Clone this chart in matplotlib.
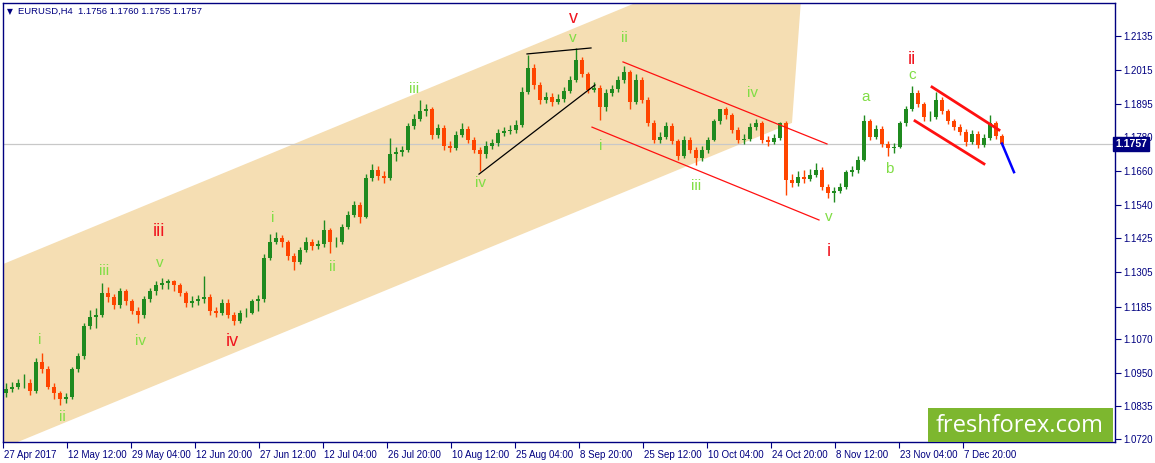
import matplotlib
matplotlib.use("Agg")
import matplotlib.pyplot as plt
import matplotlib.transforms as mtrans
from matplotlib.patches import Polygon, Rectangle

# ---------------- data ----------------
symbol = "EURUSD,H4"
header_quote = "1.1756 1.1760 1.1755 1.1757"
last_price = 1.1757
first_open = 1.0880
bars_per_candle = 6  # each drawn candle aggregates 6 H4 bars (one trading day)

closes = [1.0897, 1.0904, 1.0915, 1.0918, 1.0887, 1.0992, 1.0964, 1.0904, 1.0880, 1.0859,
          1.0866, 1.0964, 1.1010, 1.1118, 1.1147, 1.1157, 1.1234, 1.1217, 1.1189, 1.1238,
          1.1203, 1.1171, 1.1154, 1.1210, 1.1238, 1.1262, 1.1266, 1.1273, 1.1259, 1.1231,
          1.1199, 1.1203, 1.1210, 1.1217, 1.1168, 1.1164, 1.1199, 1.1154, 1.1136, 1.1161,
          1.1164, 1.1203, 1.1210, 1.1357, 1.1413, 1.1427, 1.1410, 1.1361, 1.1343, 1.1385,
          1.1413, 1.1399, 1.1403, 1.1455, 1.1410, 1.1413, 1.1466, 1.1508, 1.1543, 1.1501,
          1.1638, 1.1666, 1.1645, 1.1638, 1.1719, 1.1729, 1.1736, 1.1820, 1.1845, 1.1870,
          1.1877, 1.1789, 1.1813, 1.1750, 1.1743, 1.1789, 1.1810, 1.1771, 1.1736, 1.1719,
          1.1750, 1.1761, 1.1796, 1.1803, 1.1806, 1.1824, 1.1940, 1.2024, 1.1964, 1.1912,
          1.1922, 1.1905, 1.1915, 1.1943, 1.1982, 1.2051, 1.2003, 1.1947, 1.1954, 1.1884,
          1.1936, 1.1950, 1.1982, 1.2007, 1.1905, 1.1982, 1.1912, 1.1831, 1.1771, 1.1782,
          1.1820, 1.1768, 1.1712, 1.1771, 1.1736, 1.1705, 1.1736, 1.1771, 1.1835, 1.1877,
          1.1859, 1.1806, 1.1771, 1.1775, 1.1817, 1.1828, 1.1771, 1.1764, 1.1778, 1.1828,
          1.1631, 1.1620, 1.1641, 1.1634, 1.1648, 1.1666, 1.1606, 1.1582, 1.1592, 1.1606,
          1.1656, 1.1663, 1.1701, 1.1835, 1.1782, 1.1810, 1.1757, 1.1740, 1.1747, 1.1828,
          1.1877, 1.1936, 1.1898, 1.1849, 1.1852, 1.1912, 1.1870, 1.1838, 1.1817, 1.1799,
          1.1764, 1.1792, 1.1754, 1.1778, 1.1828, 1.1785, 1.1757]

highs = [1.0915, 1.0921, 1.0932, 1.0948, 1.0930, 1.1003, 1.1021, 1.0975, 1.0915, 1.0890,
         1.0880, 1.0972, 1.1022, 1.1128, 1.1172, 1.1180, 1.1268, 1.1255, 1.1228, 1.1250,
         1.1245, 1.1212, 1.1185, 1.1222, 1.1250, 1.1275, 1.1285, 1.1282, 1.1280, 1.1268,
         1.1240, 1.1222, 1.1225, 1.1292, 1.1230, 1.1185, 1.1212, 1.1210, 1.1165, 1.1172,
         1.1180, 1.1212, 1.1225, 1.1368, 1.1440, 1.1447, 1.1438, 1.1418, 1.1372, 1.1395,
         1.1430, 1.1422, 1.1418, 1.1489, 1.1462, 1.1430, 1.1475, 1.1520, 1.1555, 1.1552,
         1.1650, 1.1685, 1.1678, 1.1660, 1.1777, 1.1745, 1.1750, 1.1830, 1.1862, 1.1910,
         1.1895, 1.1885, 1.1825, 1.1822, 1.1765, 1.1800, 1.1831, 1.1818, 1.1780, 1.1745,
         1.1765, 1.1775, 1.1808, 1.1815, 1.1822, 1.1840, 1.1955, 1.2068, 1.2035, 1.1972,
         1.1940, 1.1935, 1.1930, 1.1955, 1.1995, 1.2092, 1.2060, 1.2010, 1.1972, 1.1962,
         1.1948, 1.1962, 1.1995, 1.2030, 1.2015, 1.2000, 1.1990, 1.1920, 1.1840, 1.1798,
         1.1833, 1.1828, 1.1775, 1.1785, 1.1780, 1.1745, 1.1750, 1.1782, 1.1845, 1.1880,
         1.1885, 1.1865, 1.1815, 1.1790, 1.1830, 1.1845, 1.1835, 1.1785, 1.1792, 1.1832,
         1.1835, 1.1650, 1.1660, 1.1665, 1.1668, 1.1689, 1.1675, 1.1615, 1.1605, 1.1618,
         1.1665, 1.1678, 1.1712, 1.1858, 1.1842, 1.1822, 1.1818, 1.1765, 1.1760, 1.1838,
         1.1888, 1.1960, 1.1945, 1.1905, 1.1870, 1.1938, 1.1920, 1.1878, 1.1845, 1.1825,
         1.1808, 1.1805, 1.1800, 1.1790, 1.1858, 1.1835, 1.1790]

lows = [1.0868, 1.0885, 1.0895, 1.0900, 1.0875, 1.0880, 1.0950, 1.0895, 1.0862, 1.0840,
        1.0845, 1.0860, 1.0955, 1.1002, 1.1105, 1.1110, 1.1150, 1.1200, 1.1175, 1.1180,
        1.1190, 1.1160, 1.1126, 1.1145, 1.1200, 1.1225, 1.1245, 1.1248, 1.1240, 1.1222,
        1.1185, 1.1185, 1.1192, 1.1198, 1.1155, 1.1150, 1.1155, 1.1145, 1.1120, 1.1128,
        1.1150, 1.1158, 1.1170, 1.1202, 1.1350, 1.1405, 1.1395, 1.1350, 1.1315, 1.1335,
        1.1378, 1.1385, 1.1388, 1.1395, 1.1373, 1.1395, 1.1405, 1.1458, 1.1500, 1.1478,
        1.1495, 1.1625, 1.1630, 1.1620, 1.1630, 1.1695, 1.1715, 1.1728, 1.1810, 1.1838,
        1.1855, 1.1775, 1.1778, 1.1735, 1.1728, 1.1735, 1.1780, 1.1760, 1.1725, 1.1660,
        1.1705, 1.1738, 1.1750, 1.1785, 1.1790, 1.1795, 1.1815, 1.1930, 1.1950, 1.1895,
        1.1900, 1.1890, 1.1895, 1.1905, 1.1935, 1.1975, 1.1990, 1.1935, 1.1938, 1.1840,
        1.1870, 1.1925, 1.1940, 1.1970, 1.1880, 1.1895, 1.1900, 1.1820, 1.1760, 1.1760,
        1.1775, 1.1755, 1.1700, 1.1705, 1.1725, 1.1682, 1.1695, 1.1725, 1.1765, 1.1825,
        1.1845, 1.1795, 1.1760, 1.1755, 1.1765, 1.1805, 1.1760, 1.1750, 1.1755, 1.1770,
        1.1577, 1.1605, 1.1610, 1.1620, 1.1625, 1.1640, 1.1595, 1.1565, 1.1553, 1.1585,
        1.1598, 1.1645, 1.1655, 1.1695, 1.1770, 1.1775, 1.1745, 1.1712, 1.1725, 1.1740,
        1.1820, 1.1870, 1.1885, 1.1835, 1.1838, 1.1845, 1.1860, 1.1825, 1.1805, 1.1788,
        1.1750, 1.1755, 1.1740, 1.1745, 1.1770, 1.1772, 1.1748]

y_ticks = [1.2135, 1.2015, 1.1895, 1.1780, 1.1660, 1.1540, 1.1425, 1.1305,
           1.1185, 1.1070, 1.0950, 1.0835, 1.0720]
x_tick_labels = ["27 Apr 2017", "12 May 12:00", "29 May 04:00", "12 Jun 20:00",
                 "27 Jun 12:00", "12 Jul 04:00", "26 Jul 20:00", "10 Aug 12:00",
                 "25 Aug 04:00", "8 Sep 20:00", "25 Sep 12:00", "10 Oct 04:00",
                 "24 Oct 20:00", "8 Nov 12:00", "23 Nov 04:00", "7 Dec 20:00"]
x_tick_bars = [0, 64, 128, 192, 256, 320, 384, 448, 512, 576, 640, 704, 768, 832, 896, 960]

# Elliott wave labels: (text, bar, price, kind)
wave_text = ["i", "ii", "iii", "v", "iv", "i", "ii", "iii", "iv", "v", "ii", "i", "iii",
             "iv", "v", "a", "b", "c",
             "iii", "iv", "v", "i", "ii"]
wave_bar = [37, 59, 101, 157, 137, 270, 329, 411, 477, 570, 621, 598, 693,
            749, 826, 863, 886, 909,
            156, 229, 570, 826, 909]
wave_price = [1.1068, 1.0797, 1.1311, 1.1338, 1.1064, 1.1496, 1.1324, 1.1949, 1.1619, 1.2128,
              1.2128, 1.1749, 1.1608, 1.1935, 1.1499, 1.1921, 1.1668, 1.1998,
              1.1447, 1.1064, 1.2198, 1.1377, 1.2054]
wave_kind = ["g"] * 18 + ["r"] * 5

# ---------------- figure ----------------
W, H = 1155, 463
fig = plt.figure(figsize=(W / 100, H / 100), dpi=100)
fig.patch.set_facecolor("white")
ax = fig.add_axes([3 / W, 21 / H, 1112 / W, 439 / H])
ax.set_facecolor("white")
ymin, ymax = 1.07094, 1.22509
ax.set_xlim(0, 1112)
ax.set_ylim(ymin, ymax)

navy = "#000080"
up_col = "#1F8A1F"
dn_col = "#FF4500"
wheat = "#F5DEB3"
green_lbl = "#80DD45"
red_lbl = "#F0141E"

# rising channel (wheat fill)
chan = Polygon([(0, 1.0688), (0, 1.1334), (640, 1.2262), (798, 1.2262), (789, 1.1830)],
               closed=True, facecolor=wheat, edgecolor="none", zorder=1)
ax.add_patch(chan)

# last price horizontal line
ax.axhline(last_price, color="#C8C8C8", lw=0.9, zorder=2)

# candles
opens = [first_open] + closes[:-1]
for k, (o, h, l, c) in enumerate(zip(opens, highs, lows, closes)):
    xc = bars_per_candle * k + 3
    col = up_col if c >= o else dn_col
    ax.vlines(xc, l, h, color=col, lw=1.0, zorder=3)
    body = max(abs(c - o), 0.00012)
    ax.bar(xc, body, bottom=min(o, c), width=4.4, color=col, linewidth=0, zorder=4)

# ending diagonal (black lines)
ax.plot([524, 588], [1.2072, 1.2093], color="black", lw=0.9, zorder=5)
ax.plot([476, 592], [1.1650, 1.1963], color="black", lw=0.9, zorder=5)

# red descending channel (thin)
ax.plot([620, 824], [1.2044, 1.1756], color="#FF1010", lw=0.9, zorder=5)
ax.plot([589, 816], [1.1815, 1.1489], color="#FF1010", lw=0.9, zorder=5)

# red small channel (thick)
ax.plot([929, 996], [1.1956, 1.1805], color="#FF1010", lw=2.0, zorder=5)
ax.plot([912, 981], [1.1837, 1.1686], color="#FF1010", lw=2.0, zorder=5)

# projection (blue)
ax.plot([999, 1011], [last_price, 1.1657], color="#0000FF", lw=1.8, zorder=6)

# wave labels
for t, b, p, kd in zip(wave_text, wave_bar, wave_price, wave_kind):
    if kd == "g":
        ax.text(b, p, t, color=green_lbl, fontsize=11, ha="center", va="center",
                family="Liberation Sans", zorder=7)
    else:
        ax.text(b, p, t, color=red_lbl, fontsize=13, ha="center", va="center",
                family="Liberation Sans", zorder=7)

# axes styling
for side in ["left", "right", "top", "bottom"]:
    ax.spines[side].set_color(navy)
    ax.spines[side].set_linewidth(1.0)
ax.yaxis.tick_right()
ax.set_yticks(y_ticks)
ax.set_yticklabels([f"{v:.4f}" for v in y_ticks])
ax.tick_params(axis="y", direction="out", length=4, width=0.8, color=navy,
               labelcolor=navy, labelsize=7, pad=2)
ax.set_xticks(x_tick_bars)
ax.set_xticklabels(x_tick_labels, ha="left")
ax.tick_params(axis="x", direction="out", length=4, width=0.8, color=navy,
               labelcolor=navy, labelsize=7, pad=1.5)
for lab in ax.get_xticklabels() + ax.get_yticklabels():
    lab.set_family("Liberation Sans")
offset = mtrans.ScaledTranslation(1 / 100, 0, fig.dpi_scale_trans)
for lab in ax.get_xticklabels():
    lab.set_transform(lab.get_transform() + offset)

# price box on right axis
ax.text(1.0, last_price, "1.1757", transform=ax.get_yaxis_transform(),
        ha="left", va="center", color="white", fontsize=7.5, family="Liberation Sans",
        fontweight="bold",
        bbox=dict(boxstyle="square,pad=0.2", facecolor=navy, edgecolor=navy),
        zorder=10, clip_on=False)

# header
fig.text(7 / W, 1 - 12 / H, "\u25BC", color=navy, fontsize=5.5, va="center", ha="left",
         family="DejaVu Sans")
fig.text(18 / W, 1 - 11.5 / H, f"{symbol}  {header_quote}", color=navy, fontsize=6.8,
         va="center", ha="left", family="Liberation Sans")

# watermark
fig.patches.append(Rectangle((928 / W, 21 / H), 185 / W, 34 / H, transform=fig.transFigure,
                             facecolor="#7DB72F", edgecolor="none", zorder=20, figure=fig))
fig.text(1020 / W, 1 - 426 / H, "freshforex.com", color="white", fontsize=17,
         ha="center", va="center", family="Open Sans", zorder=21)

fig.savefig("out.png", dpi=100)
